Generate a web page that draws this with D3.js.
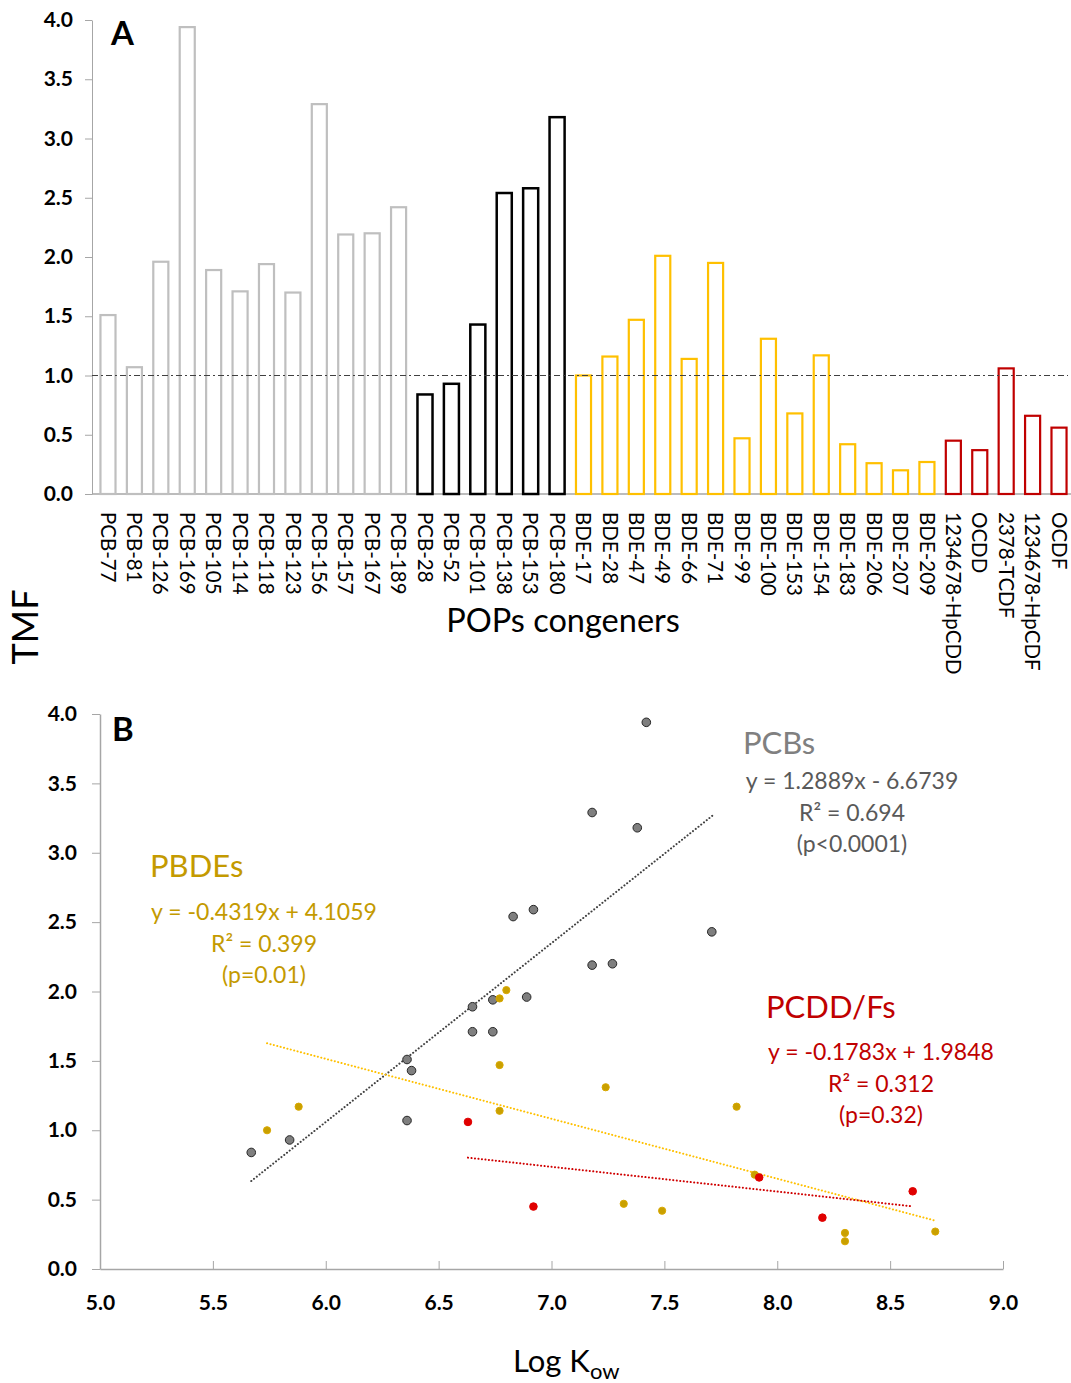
<!DOCTYPE html>
<html>
<head>
<meta charset="utf-8">
<script src="https://cdn.jsdelivr.net/npm/d3@7"></script>
<style>
  body { margin: 0; background: #fff; }
  svg { display: block; font-family: Lato, "Open Sans", sans-serif; }
</style>
</head>
<body>
<svg id="chart"></svg>
<script>
// Panel A: TMF per congener
const congeners = ['PCB-77', 'PCB-81', 'PCB-126', 'PCB-169', 'PCB-105', 'PCB-114', 'PCB-118', 'PCB-123',
    'PCB-156', 'PCB-157', 'PCB-167', 'PCB-189', 'PCB-28', 'PCB-52', 'PCB-101', 'PCB-138', 'PCB-153', 'PCB-180',
    'BDE-17', 'BDE-28', 'BDE-47', 'BDE-49', 'BDE-66', 'BDE-71', 'BDE-99', 'BDE-100', 'BDE-153', 'BDE-154',
    'BDE-183', 'BDE-206', 'BDE-207', 'BDE-209', '1234678-HpCDD', 'OCDD', '2378-TCDF', '1234678-HpCDF', 'OCDF'];
const tmfValues = [1.51, 1.07, 1.96, 3.94, 1.89, 1.71, 1.94, 1.70, 3.29, 2.19, 2.20, 2.42,
    0.84, 0.93, 1.43, 2.54, 2.58, 3.18,
    1.00, 1.16, 1.47, 2.01, 1.14, 1.95, 0.47, 1.31, 0.68, 1.17, 0.42, 0.26, 0.20, 0.27,
    0.45, 0.37, 1.06, 0.66, 0.56];
const groupCounts = [12, 6, 14, 5];
const groupColors = ['#bfbfbf', '#000000', '#ffc000', '#c00000'];
const yTicks = [0, 0.5, 1, 1.5, 2, 2.5, 3, 3.5, 4];
const refLine = 1.0;

// Panel B: TMF vs log Kow
const pcbLogKow = [5.67, 5.84, 6.36, 6.38, 6.36, 6.65, 6.65, 6.74, 6.74, 6.89, 6.83, 6.92, 7.42, 7.18, 7.38, 7.71, 7.18, 7.27];
const pcbTmf = [0.84, 0.93, 1.51, 1.43, 1.07, 1.89, 1.71, 1.71, 1.94, 1.96, 2.54, 2.59, 3.94, 3.29, 3.18, 2.43, 2.19, 2.20];
const pbdeLogKow = [5.74, 5.88, 6.77, 6.80, 6.77, 6.77, 7.24, 7.82, 7.32, 7.49, 7.90, 8.30, 8.30, 8.70];
const pbdeTmf = [1.00, 1.17, 1.95, 2.01, 1.47, 1.14, 1.31, 1.17, 0.47, 0.42, 0.68, 0.26, 0.20, 0.27];
const pcddLogKow = [6.63, 6.92, 7.92, 8.20, 8.60];
const pcddTmf = [1.06, 0.45, 0.66, 0.37, 0.56];
// slope, intercept and x extent of each fitted line
const pcbFit = [1.2889, -6.6739, 5.67, 7.72];
const pbdeFit = [-0.4319, 4.1059, 5.74, 8.70];
const pcddFit = [-0.1783, 1.9848, 6.63, 8.59];
const xTicksB = [5, 5.5, 6, 6.5, 7, 7.5, 8, 8.5, 9];

const W = 1071, H = 1383;
const svg = d3.select('#chart').attr('width', W).attr('height', H);
const fmt = d3.format('.1f');
const axisGrey = '#a6a6a6';

// group index for each congener
const barGroup = [];
groupCounts.forEach((n, g) => { for (let i = 0; i < n; i++) barGroup.push(g); });

// ---------- Panel A ----------
const xA = d3.scaleBand().domain(congeners).range([92, 1075]).paddingInner(0.43).paddingOuter(0.32);
const yA = d3.scaleLinear().domain([0, 4]).range([494, 20]);

const gA = svg.append('g');

const yAxisA = gA.append('g')
    .attr('transform', 'translate(92,0)')
    .call(d3.axisLeft(yA).tickValues(yTicks).tickSize(7).tickSizeOuter(0).tickPadding(12).tickFormat(fmt));
yAxisA.select('.domain').attr('stroke', axisGrey);
yAxisA.selectAll('.tick line').attr('stroke', axisGrey);
yAxisA.selectAll('text').attr('font-family', 'Lato').attr('font-weight', 'bold').attr('font-size', 21).attr('fill', '#000');

gA.append('line')
    .attr('x1', 92).attr('x2', W).attr('y1', yA(0)).attr('y2', yA(0))
    .attr('stroke', axisGrey).attr('stroke-width', 1.5);

gA.selectAll('.bar')
    .data(congeners)
    .enter()
    .append('rect')
    .attr('class', 'bar')
    .attr('x', d => xA(d))
    .attr('width', xA.bandwidth())
    .attr('y', (d, i) => yA(tmfValues[i]))
    .attr('height', (d, i) => yA(0) - yA(tmfValues[i]))
    .attr('fill', 'none')
    .attr('stroke', (d, i) => groupColors[barGroup[i]])
    .attr('stroke-width', (d, i) => barGroup[i] === 1 ? 2.5 : 2.2);

gA.append('line')
    .attr('x1', 92).attr('x2', 1068).attr('y1', yA(refLine)).attr('y2', yA(refLine))
    .attr('stroke', '#404040').attr('stroke-width', 1).attr('stroke-dasharray', '6,3,2,3');

gA.selectAll('.xlab')
    .data(congeners)
    .enter()
    .append('text')
    .attr('class', 'xlab')
    .attr('transform', d => `translate(${xA(d) + xA.bandwidth() / 2},512) rotate(90)`)
    .attr('dy', '0.36em')
    .attr('font-size', 20.5)
    .attr('fill', '#000')
    .text(d => d);

gA.append('text')
    .attr('x', 563).attr('y', 632)
    .attr('text-anchor', 'middle')
    .attr('font-size', 32.5)
    .text('POPs congeners');

gA.append('text')
    .attr('x', 111).attr('y', 45)
    .attr('font-weight', 'bold').attr('font-size', 33)
    .text('A');

svg.append('text')
    .attr('transform', 'translate(38,627) rotate(-90)')
    .attr('text-anchor', 'middle')
    .attr('font-size', 36)
    .text('TMF');

// ---------- Panel B ----------
const xB = d3.scaleLinear().domain([5, 9]).range([100, 1003]);
const yB = d3.scaleLinear().domain([0, 4]).range([1269, 714]);
const gB = svg.append('g');

const yAxisB = gB.append('g')
    .attr('transform', 'translate(100,0)')
    .call(d3.axisLeft(yB).tickValues(yTicks).tickSize(8).tickSizeOuter(0).tickPadding(15).tickFormat(fmt));
const xAxisB = gB.append('g')
    .attr('transform', 'translate(0,1269)')
    .call(d3.axisBottom(xB).tickValues(xTicksB).tickSize(-8).tickSizeOuter(0).tickPadding(26).tickFormat(fmt));
[yAxisB, xAxisB].forEach(a => {
    a.select('.domain').attr('stroke', axisGrey).attr('stroke-width', 1.5);
    a.selectAll('.tick line').attr('stroke', axisGrey);
    a.selectAll('text').attr('font-family', 'Lato').attr('font-weight', 'bold').attr('font-size', 21).attr('fill', '#000');
});

// fitted lines
const fits = [[pcbFit, '#404040'], [pbdeFit, '#ffc000'], [pcddFit, '#d00000']];
gB.selectAll('.fit')
    .data(fits)
    .enter()
    .append('line')
    .attr('class', 'fit')
    .attr('x1', d => xB(d[0][2])).attr('y1', d => yB(d[0][0] * d[0][2] + d[0][1]))
    .attr('x2', d => xB(d[0][3])).attr('y2', d => yB(d[0][0] * d[0][3] + d[0][1]))
    .attr('stroke', d => d[1])
    .attr('stroke-width', 2)
    .attr('stroke-dasharray', '0.1,3.4')
    .attr('stroke-linecap', 'round');

function drawPoints(xs, ys, fill, stroke, r) {
    gB.append('g').selectAll('circle')
        .data(xs)
        .enter()
        .append('circle')
        .attr('cx', d => xB(d))
        .attr('cy', (d, i) => yB(ys[i]))
        .attr('r', r)
        .attr('fill', fill)
        .attr('stroke', stroke)
        .attr('stroke-width', 1);
}
drawPoints(pcbLogKow, pcbTmf, '#7f7f7f', '#262626', 4.3);
drawPoints(pbdeLogKow, pbdeTmf, '#c9a000', '#d9a800', 3.6);
drawPoints(pcddLogKow, pcddTmf, '#e00000', '#e00000', 3.8);

gB.append('text')
    .attr('x', 112).attr('y', 741)
    .attr('font-weight', 'bold').attr('font-size', 33)
    .text('B');

// regression annotations
function annotate(title, tx, ty, lines, cx, y0, color, titleColor) {
    gB.append('text')
        .attr('x', tx).attr('y', ty)
        .attr('font-size', 31)
        .attr('fill', titleColor || color)
        .text(title);
    lines.forEach((t, i) => {
        gB.append('text')
            .attr('x', cx).attr('y', y0 + i * 31.5)
            .attr('text-anchor', 'middle')
            .attr('font-size', 23)
            .attr('fill', color)
            .text(t);
    });
}
annotate('PCBs', 743, 754, ['y = 1.2889x - 6.6739', 'R² = 0.694', '(p<0.0001)'], 852, 789, '#595959', '#808080');
annotate('PBDEs', 150, 877, ['y = -0.4319x + 4.1059', 'R² = 0.399', '(p=0.01)'], 264, 920, '#c49a00');
annotate('PCDD/Fs', 766, 1018, ['y = -0.1783x + 1.9848', 'R² = 0.312', '(p=0.32)'], 881, 1060, '#c00000');

const xt = gB.append('text')
    .attr('x', 513).attr('y', 1372)
    .attr('font-size', 31);
xt.append('tspan').text('Log K');
xt.append('tspan').attr('font-size', 22).attr('dy', 7).text('ow');
</script>
</body>
</html>
